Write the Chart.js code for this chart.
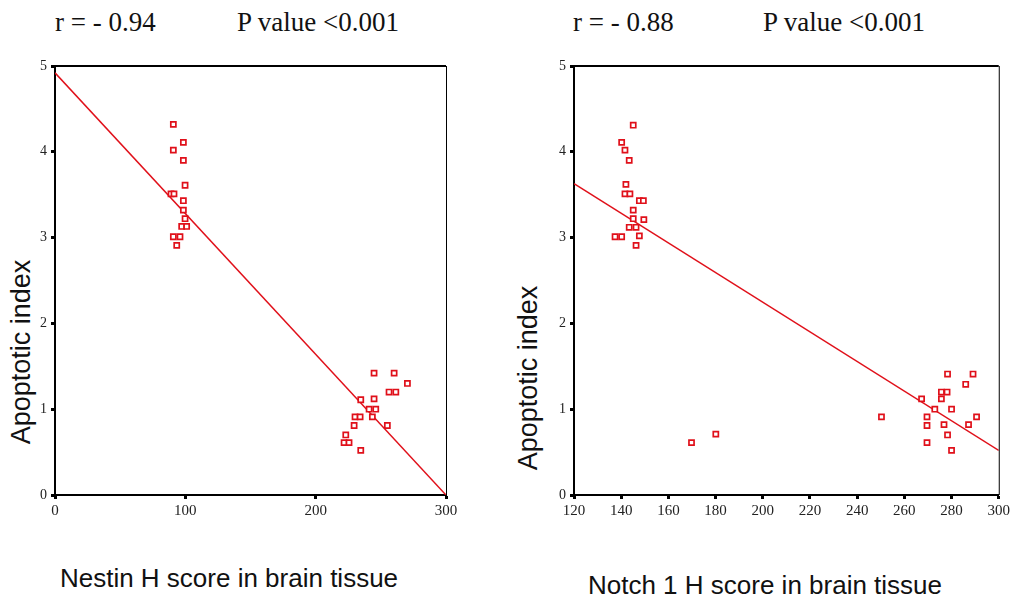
<!DOCTYPE html>
<html><head><meta charset="utf-8">
<script src="https://cdn.jsdelivr.net/npm/chart.js@4.4.1/dist/chart.umd.min.js"></script>
<style>
html,body{margin:0;padding:0;background:#fff;width:1013px;height:599px;overflow:hidden;position:relative;}
.c{position:absolute;top:0;}
.t{position:absolute;font-family:"Liberation Serif","Times New Roman",serif;font-size:27px;color:#111;white-space:nowrap;line-height:1;}
.a{position:absolute;font-family:"Liberation Sans",Arial,sans-serif;font-size:26px;color:#111;white-space:nowrap;line-height:1;}
.v{transform:translate(-50%,-50%) rotate(-90deg);font-size:27px;}
.h{transform:translate(-50%,-50%);}
</style></head><body>
<div class="t" style="left:55px;top:9px">r = - 0.94</div>
<div class="t" style="left:237px;top:9px">P value &lt;0.001</div>
<div class="t" style="left:573px;top:9px">r = - 0.88</div>
<div class="t" style="left:763px;top:9px">P value &lt;0.001</div>
<div class="a v" style="left:21px;top:352px">Apoptotic index</div>
<div class="a v" style="left:528px;top:378px">Apoptotic index</div>
<div class="a h" style="left:229px;top:578px">Nestin H score in brain tissue</div>
<div class="a h" style="left:765px;top:585px">Notch 1 H score in brain tissue</div>
<div class="c" style="left:0;width:470px;height:599px"><canvas id="c1"></canvas></div>
<div class="c" style="left:500px;width:513px;height:599px"><canvas id="c2"></canvas></div>
<script>
// ---- data ----
const nestinX = [90.8,98.5,90.8,98.5,99.8,89,91.3,98.5,98.5,99.8,97.2,101,90.8,95.9,93.4,
  244.8,260.2,270.4,256.3,261.5,234.6,244.8,241,246.1,243.5,230.2,234.1,229.5,255,223.1,221.8,225.6,234.6];
const nestinY = [4.32,4.11,4.02,3.90,3.61,3.51,3.51,3.43,3.32,3.22,3.13,3.13,3.01,3.01,2.91,
  1.42,1.42,1.30,1.20,1.20,1.11,1.12,1.00,1.00,0.91,0.91,0.91,0.81,0.81,0.70,0.61,0.61,0.52];
const nestinFitX = [0,300];
const nestinFitY = [4.92,0];

const notchX = [145.1,140.2,141.6,143.4,142,141.6,143.7,147.7,149.4,145.1,145.1,149.6,143.4,146.3,137.4,140.2,147.7,146.3,
  278.3,289.1,286,275.7,278.1,275.7,267.3,272.9,280,250.3,269.6,290.6,269.6,276.8,287.2,278.3,269.6,280,169.8,180.1];
const notchY = [4.31,4.11,4.02,3.90,3.62,3.51,3.51,3.43,3.43,3.32,3.22,3.21,3.12,3.12,3.01,3.01,3.02,2.91,
  1.41,1.41,1.29,1.20,1.20,1.12,1.12,1.00,1.00,0.91,0.91,0.91,0.81,0.82,0.82,0.70,0.61,0.52,0.61,0.71];
const notchFitX = [120,300];
const notchFitY = [3.63,0.52];

const nestinTicksX = [0,100,200,300];
const notchTicksX = [120,140,160,180,200,220,240,260,280,300];
const yTicks = [0,1,2,3,4,5];

const RED = '#e0101a';
const pts = (xs, ys) => xs.map((x,i)=>({x, y: ys[i]}));

const framePlugin = {
  id:'frame',
  afterDraw(chart){
    const {ctx, chartArea:a} = chart;
    ctx.save();
    ctx.strokeStyle='#000';
    ctx.lineWidth=2;
    ctx.beginPath(); ctx.moveTo(a.left-1,a.top); ctx.lineTo(a.right,a.top); ctx.stroke();
    ctx.lineWidth=1;
    ctx.beginPath(); ctx.moveTo(a.right+0.5,a.top); ctx.lineTo(a.right+0.5,a.bottom); ctx.stroke();
    ctx.restore();
  }
};

function make(id, xs, ys, fx, fy, xmin, xmax, xTicks, yW, padRight){
  new Chart(document.getElementById(id), {
    type:'scatter',
    data:{datasets:[
      {data:pts(fx,fy), showLine:true, borderColor:RED, borderWidth:1.5, pointRadius:0, fill:false, order:2},
      {data:pts(xs,ys), pointStyle:'rect', pointRadius:3.6, borderColor:RED, backgroundColor:'#fff', pointBorderWidth:1.7, borderWidth:1.7, order:1}
    ]},
    options:{
      responsive:true, maintainAspectRatio:false, animation:false,
      layout:{padding:{top:66,left:0,right:padRight,bottom:0}},
      plugins:{legend:{display:false},tooltip:{enabled:false}},
      scales:{
        x:{type:'linear',min:xmin,max:xmax,
          afterBuildTicks(s){ s.ticks = xTicks.map(v=>({value:v})); },
          afterFit(s){ s.height=104; },
          border:{display:true,color:'#000',width:2},
          grid:{drawOnChartArea:false,drawTicks:true,tickLength:4,tickWidth:3,tickColor:'#000'},
          ticks:{color:'#222',padding:3,maxRotation:0,autoSkip:false,font:{family:'"Liberation Serif", serif',size:15}}
        },
        y:{type:'linear',min:0,max:5,
          afterBuildTicks(s){ s.ticks = yTicks.map(v=>({value:v})); },
          afterFit(s){ s.width=yW; },
          border:{display:true,color:'#000',width:2},
          grid:{drawOnChartArea:false,drawTicks:true,tickLength:4,tickWidth:3,tickColor:'#000'},
          ticks:{color:'#222',padding:4,font:{family:'"Liberation Serif", serif',size:14}}
        }
      }
    },
    plugins:[framePlugin]
  });
}
make('c1', nestinX, nestinY, nestinFitX, nestinFitY, 0, 300, nestinTicksX, 55, 24);
make('c2', notchX, notchY, notchFitX, notchFitY, 120, 300, notchTicksX, 74, 14);
</script>
</body></html>
